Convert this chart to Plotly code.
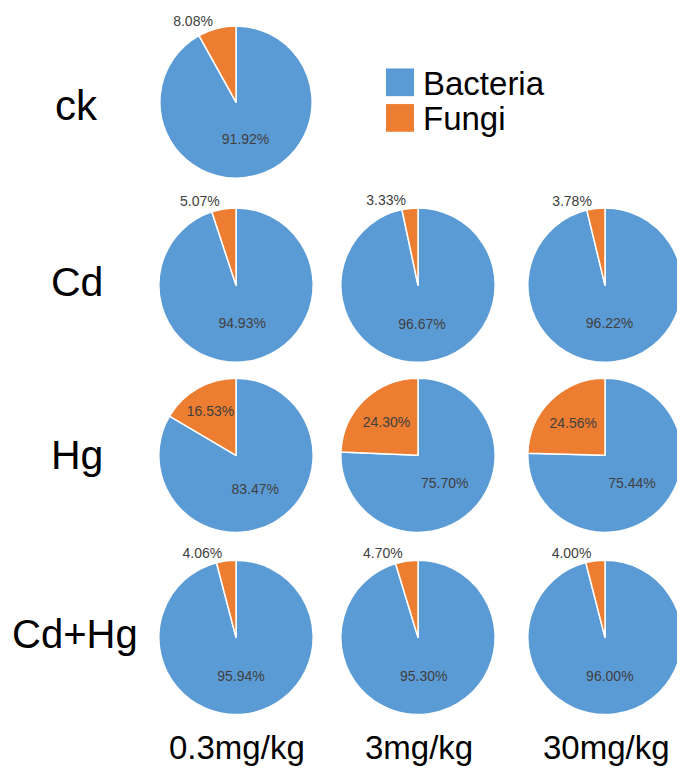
import plotly.graph_objects as go

W, H = 685, 768
FONT = "Liberation Sans, Arial, sans-serif"

labels = ["Bacteria", "Fungi"]
colors = ["#5B9BD5", "#ED7D31"]
row_names = ["ck", "Cd", "Hg", "Cd+Hg"]
col_names = ["0.3mg/kg", "3mg/kg", "30mg/kg"]

ck = [91.92, 8.08]
cd = [[94.93, 5.07], [96.67, 3.33], [96.22, 3.78]]
hg = [[83.47, 16.53], [75.70, 24.30], [75.44, 24.56]]
cdhg = [[95.94, 4.06], [95.30, 4.70], [96.00, 4.00]]

# layout positions in screen pixels
col_x = [236, 418, 605]
row_y = [94, 280, 452, 636]
R = 78

# screen pixel -> paper fraction (measured page offset / scale of the viewer)
def px(x):
    return min(max((x - 8) / W, 0), 1)

def py(y):
    return min(max(1 - ((y - 18.1) / 0.987) / H, 0), 1)

fig = go.Figure()

def add_pie(vals, cx, cy):
    pos = ["inside", "outside" if vals[1] < 10 else "inside"]
    fig.add_trace(go.Pie(
        labels=labels, values=vals, sort=False, direction="clockwise", rotation=0,
        marker=dict(colors=colors, line=dict(color="white", width=1.5)),
        texttemplate="%{value:.2f}%", textposition=pos,
        insidetextorientation="horizontal",
        textfont=dict(family=FONT, size=14, color="#404040"),
        domain=dict(x=[px(cx - R), px(cx + R)], y=[py(cy + R), py(cy - R)]),
        showlegend=False, hoverinfo="label+value",
    ))

add_pie(ck, col_x[0], row_y[0])
for r, data in enumerate([cd, hg, cdhg], start=1):
    for c, v in enumerate(data):
        add_pie(v, col_x[c], row_y[r])

ann = []
shapes = []
row_lx = [76, 77, 77, 75]
row_base = [112, 290, 465, 646]
row_fs = [42, 41, 41, 40]
for i, n in enumerate(row_names):
    fs = row_fs[i]
    ann.append(dict(text=n, x=px(row_lx[i]), y=py(row_base[i] - 0.33 * fs), xref="paper", yref="paper",
                    xanchor="center", yanchor="middle", showarrow=False,
                    font=dict(family=FONT, size=fs, color="black")))
col_lx = [237, 419, 606]
for i, n in enumerate(col_names):
    fs = 33
    ann.append(dict(text=n, x=px(col_lx[i]), y=py(758 - 0.33 * fs), xref="paper", yref="paper",
                    xanchor="center", yanchor="middle", showarrow=False,
                    font=dict(family=FONT, size=fs, color="black")))

# legend: colour squares + labels
leg_y = [75, 111]
for i, lab in enumerate(labels):
    shapes.append(dict(type="rect", xref="paper", yref="paper",
                       x0=px(386), x1=px(414), y0=py(leg_y[i] + 14), y1=py(leg_y[i] - 14),
                       fillcolor=colors[i], line=dict(width=0)))
    ann.append(dict(text=lab, x=px(421), y=py(leg_y[i] + 1), xref="paper", yref="paper",
                    xanchor="left", yanchor="middle", showarrow=False,
                    font=dict(family=FONT, size=33, color="black")))

fig.update_layout(
    width=W, height=H, margin=dict(l=0, r=0, t=0, b=0),
    paper_bgcolor="white", plot_bgcolor="white",
    annotations=ann, shapes=shapes, showlegend=False,
)
fig.write_html("out.html")
